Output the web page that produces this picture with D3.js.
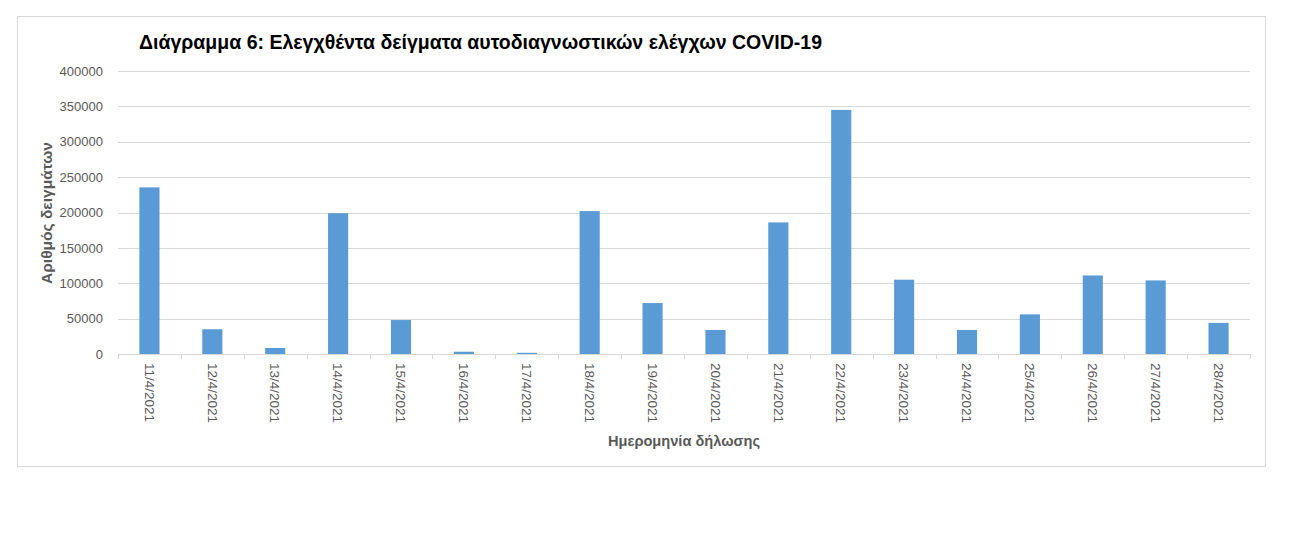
<!DOCTYPE html>
<html>
<head>
<meta charset="utf-8">
<script src="https://cdn.jsdelivr.net/npm/d3@7"></script>
<style>
  html, body { margin: 0; padding: 0; background: #fff; }
  svg { display: block; }
</style>
</head>
<body>
<svg id="chart" width="1300" height="548"></svg>
<script>
const categories = ["11/4/2021","12/4/2021","13/4/2021","14/4/2021","15/4/2021","16/4/2021","17/4/2021","18/4/2021","19/4/2021","20/4/2021","21/4/2021","22/4/2021","23/4/2021","24/4/2021","25/4/2021","26/4/2021","27/4/2021","28/4/2021"];
const values = [235500, 35000, 8500, 199000, 48000, 3200, 1700, 202000, 72000, 34000, 186000, 345000, 105000, 34000, 56000, 111000, 104000, 44000];
const yTicks = [0, 50000, 100000, 150000, 200000, 250000, 300000, 350000, 400000];
const titleText = "Διάγραμμα 6: Ελεγχθέντα δείγματα αυτοδιαγνωστικών ελέγχων COVID-19";
const yTitle = "Αριθμός δειγμάτων";
const xTitle = "Ημερομηνία δήλωσης";

(function () {
const svg = d3.select("#chart");
const font = "'Liberation Sans', Arial, sans-serif";
const pLeft = 118, pRight = 1250, pTop = 71, pBottom = 354;

// frame
svg.append("rect").attr("x", 17.5).attr("y", 16.5).attr("width", 1248).attr("height", 450)
  .attr("fill", "#fff").attr("stroke", "#d9d9d9").attr("stroke-width", 1);

const x = d3.scaleBand().domain(categories).range([pLeft, pRight]).paddingInner(0.68).paddingOuter(0.34);
const y = d3.scaleLinear().domain([0, 400000]).range([pBottom, pTop]);

// gridlines
svg.append("g").selectAll("line").data(yTicks.filter(d => d > 0)).join("line")
  .attr("x1", pLeft).attr("x2", pRight)
  .attr("y1", d => Math.round(y(d)) + 0.5).attr("y2", d => Math.round(y(d)) + 0.5)
  .attr("stroke", "#d9d9d9").attr("stroke-width", 1);

// y axis labels
const yAxis = d3.axisLeft(y).tickValues(yTicks).tickSize(0).tickPadding(15).tickFormat(d3.format("d"));
const gy = svg.append("g").attr("transform", `translate(${pLeft},0)`).call(yAxis);
gy.select(".domain").remove();
gy.selectAll("text").attr("font-family", font).attr("font-size", 13).attr("fill", "#595959");

// bars
svg.append("g").selectAll("rect").data(values).join("rect")
  .attr("x", (d, i) => x(categories[i]))
  .attr("width", x.bandwidth())
  .attr("y", d => y(d))
  .attr("height", d => y(0) - y(d))
  .attr("fill", "#5b9bd5");

// x axis line and ticks at band boundaries
const xAxisG = svg.append("g");
xAxisG.append("line").attr("x1", pLeft).attr("x2", pRight)
  .attr("y1", pBottom + 0.5).attr("y2", pBottom + 0.5).attr("stroke", "#d9d9d9");
const boundaries = d3.range(categories.length + 1).map(i => pLeft + i * (pRight - pLeft) / categories.length);
xAxisG.selectAll("line.tk").data(boundaries).join("line").attr("class", "tk")
  .attr("x1", d => Math.round(d) + 0.5).attr("x2", d => Math.round(d) + 0.5)
  .attr("y1", pBottom).attr("y2", pBottom + 5).attr("stroke", "#d9d9d9");

// x labels rotated 90deg
xAxisG.selectAll("text").data(categories).join("text")
  .attr("transform", d => `translate(${x(d) + x.bandwidth() / 2},${pBottom + 9}) rotate(90)`)
  .attr("dy", "0.35em")
  .attr("text-anchor", "start")
  .attr("font-family", font).attr("font-size", 13.5).attr("fill", "#595959")
  .text(d => d);

// title
svg.append("text").attr("x", 139).attr("y", 49)
  .attr("font-family", font).attr("font-size", 20).attr("font-weight", "bold").attr("fill", "#000")
  .attr("textLength", 683).attr("lengthAdjust", "spacingAndGlyphs")
  .text(titleText);

// y title
svg.append("text").attr("transform", "translate(52,213) rotate(-90)")
  .attr("text-anchor", "middle")
  .attr("font-family", font).attr("font-size", 14.5).attr("font-weight", "bold").attr("fill", "#595959")
  .attr("textLength", 142).attr("lengthAdjust", "spacingAndGlyphs")
  .text(yTitle);

// x title
svg.append("text").attr("x", 684).attr("y", 446)
  .attr("text-anchor", "middle")
  .attr("font-family", font).attr("font-size", 14).attr("font-weight", "bold").attr("fill", "#595959")
  .attr("textLength", 152).attr("lengthAdjust", "spacingAndGlyphs")
  .text(xTitle);
})();
</script>
</body>
</html>
